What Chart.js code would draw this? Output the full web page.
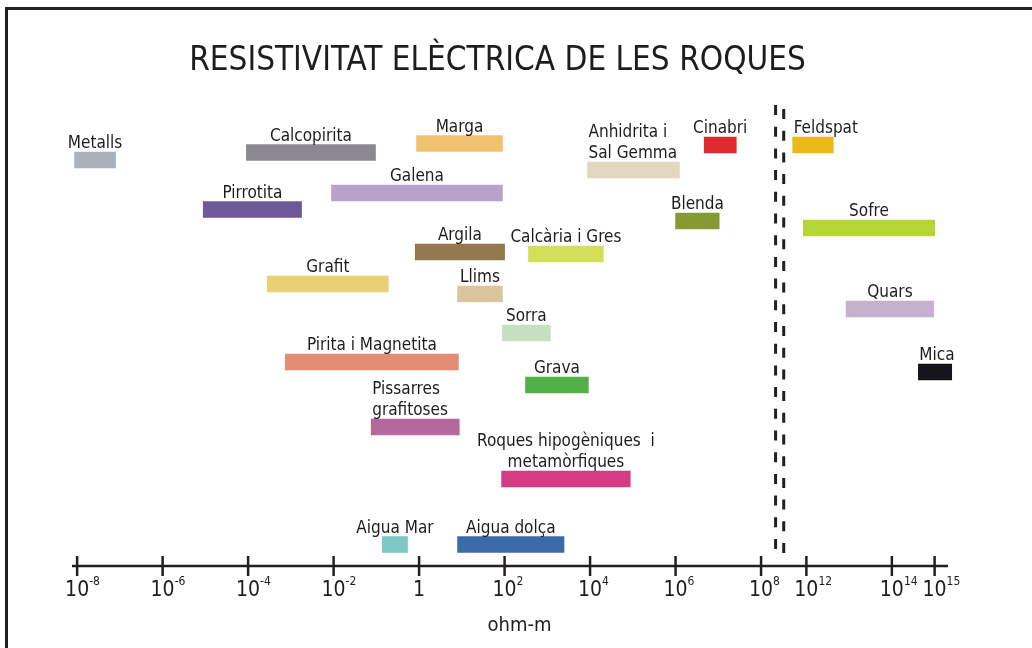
<!DOCTYPE html>
<html>
<head>
<meta charset="utf-8">
<script src="https://cdn.jsdelivr.net/npm/chart.js@4"></script>
<style>
  html, body { margin: 0; padding: 0; background: #fff; }
  #wrap { width: 1032px; height: 648px; position: relative; }
</style>
</head>
<body>
<div id="wrap"><canvas id="grafic"></canvas></div>
<script>
// --- DADES (exponents de 10, en ohm-m) ---
const roques = [
  'Metalls', 'Calcopirita', 'Marga', 'Anhidrita i\nSal Gemma', 'Cinabri', 'Feldspat',
  'Galena', 'Pirrotita', 'Blenda', 'Sofre', 'Argila', 'Calcària i Gres',
  'Grafit', 'Llims', 'Quars', 'Sorra', 'Pirita i Magnetita', 'Mica',
  'Grava', 'Pissarres\ngrafitoses', 'Roques hipogèniques  i\nmetamòrfiques', 'Aigua Mar', 'Aigua dolça'
];
const expMin = [-8.06, -4.04, -0.06, 3.94, 6.67, 11.68, -2.05, -5.05, 6.0, 11.93, -0.09, 2.56,
                -3.55, 0.9, 12.93, 1.95, -3.13, 14.62, 2.49, -1.12, 1.93, -0.86, 0.9];
const expMax = [-7.1, -1.02, 1.95, 6.09, 7.42, 12.63, 1.95, -2.75, 7.02, 15.0, 2.0, 4.31,
                -0.72, 1.95, 14.98, 3.07, 0.92, 15.4, 3.96, 0.94, 4.94, -0.27, 3.39];
// posicio vertical de cada franja (fila)
const nivell = [5.4, 4.65, 3.75, 6.4, 3.9, 3.9, 8.7, 10.35, 11.5, 12.2, 14.6, 14.8,
                17.8, 18.8, 20.3, 22.7, 25.6, 26.6, 27.9, 32.1, 37.3, 43.85, 43.85];
const ticksExp = [-8, -6, -4, -2, 0, 2, 4, 6, 8, 12, 14, 15];

const colors = ['#a9b2bb', '#8b8893', '#f0c270', '#e2d7bf', '#dc2a2e', '#ebb91c',
                '#b7a3ca', '#6e5898', '#859a32', '#b6d635', '#93784d', '#d2df58',
                '#e8d173', '#dcc59c', '#c4b1cd', '#c5dfc0', '#e38d74', '#16161a',
                '#51b148', '#b6679c', '#d43c84', '#7ec8c8', '#3b6aa8'];
const alinEsq = ['Anhidrita i\nSal Gemma', 'Feldspat', 'Mica', 'Pissarres\ngrafitoses'];

const FONT = "'DejaVu Sans Condensed', 'DejaVu Sans', sans-serif";
const INK = '#1e1c1d';

// eix trencat: de 10^8 a 10^12 queda comprimit
function eix(e) { return e < 10 ? e : e - 2.94; }

// --- PLUGINS ---
const marc = {
  id: 'marc',
  beforeDraw(chart) {
    const ctx = chart.ctx;
    ctx.save();
    ctx.strokeStyle = '#231f20';
    ctx.lineWidth = 3;
    ctx.beginPath();
    ctx.moveTo(6.5, 648);
    ctx.lineTo(6.5, 8.5);
    ctx.lineTo(1032, 8.5);
    ctx.stroke();
    // titol
    ctx.fillStyle = INK;
    ctx.font = '33px ' + FONT;
    ctx.textAlign = 'center';
    ctx.fillText('RESISTIVITAT ELÈCTRICA DE LES ROQUES', 497.5, 70);
    ctx.restore();
  }
};

const eixX = {
  id: 'eixX',
  afterDraw(chart) {
    const ctx = chart.ctx, sx = chart.scales.x;
    const yEix = chart.chartArea.bottom;
    ctx.save();
    ctx.strokeStyle = '#231f20';
    ctx.fillStyle = INK;
    ctx.lineWidth = 2.5;
    ctx.beginPath();
    ctx.moveTo(sx.left, yEix);
    ctx.lineTo(sx.right + 1, yEix);
    ctx.stroke();

    ticksExp.forEach(e => {
      const px = sx.getPixelForValue(eix(e));
      ctx.beginPath();
      ctx.moveTo(px, yEix - 10);
      ctx.lineTo(px, yEix + 10);
      ctx.stroke();
      ctx.font = '21px ' + FONT;
      ctx.textAlign = 'center';
      if (e === 0) {
        ctx.fillText('1', px, 596);
      } else {
        const w = ctx.measureText('10').width;
        ctx.fillText('10', px, 596);
        ctx.font = '12px ' + FONT;
        ctx.textAlign = 'left';
        ctx.fillText(String(e), px + w / 2, 585);
      }
    });

    ctx.font = '20px ' + FONT;
    ctx.textAlign = 'center';
    ctx.fillText('ohm-m', 519.5, 631);

    // linies de tall
    ctx.lineWidth = 3;
    ctx.setLineDash([10, 11.7]);
    const x1 = sx.getPixelForValue(8.34), x2 = sx.getPixelForValue(8.53);
    ctx.beginPath(); ctx.moveTo(x1, 105); ctx.lineTo(x1, 555); ctx.stroke();
    ctx.beginPath(); ctx.moveTo(x2, 109); ctx.lineTo(x2, 559); ctx.stroke();
    ctx.restore();
  }
};

const etiquetes = {
  id: 'etiquetes',
  afterDatasetsDraw(chart) {
    const ctx = chart.ctx;
    const meta = chart.getDatasetMeta(0);
    ctx.save();
    ctx.font = '17px ' + FONT;
    ctx.fillStyle = INK;
    meta.data.forEach((bar, i) => {
      const p = bar.getProps(['x', 'y', 'base', 'height'], true);
      const esq = Math.min(p.x, p.base), dre = Math.max(p.x, p.base);
      const dalt = p.y - p.height / 2;
      const linies = roques[i].split('\n');
      let tx;
      if (alinEsq.includes(roques[i])) {
        ctx.textAlign = 'left';
        tx = esq + 1;
      } else {
        ctx.textAlign = 'center';
        tx = (esq + dre) / 2;
      }
      linies.forEach((l, k) => {
        ctx.fillText(l, tx, dalt - 4 - (linies.length - 1 - k) * 21);
      });
    });
    ctx.restore();
  }
};

// --- GRAFIC ---
new Chart(document.getElementById('grafic'), {
  type: 'bar',
  data: {
    datasets: [{
      data: roques.map((r, i) => ({ x: [eix(expMin[i]), eix(expMax[i])], y: nivell[i] })),
      backgroundColor: colors,
      borderWidth: 0,
      borderSkipped: false,
      barThickness: 16,
      clip: false
    }]
  },
  options: {
    indexAxis: 'y',
    responsive: true,
    maintainAspectRatio: false,
    animation: false,
    layout: { padding: { left: 72, right: 85, top: 106, bottom: 82 } },
    scales: {
      x: { type: 'linear', min: -8.12, max: 12.35, display: false },
      y: { type: 'linear', min: 0, max: 46, reverse: true, offset: false, display: false }
    },
    plugins: {
      legend: { display: false },
      tooltip: { enabled: false }
    }
  },
  plugins: [marc, eixX, etiquetes]
});
</script>
</body>
</html>
